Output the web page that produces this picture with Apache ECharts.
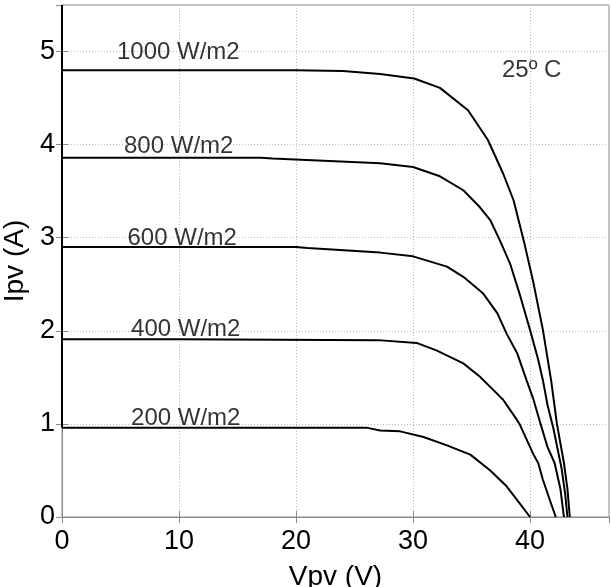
<!DOCTYPE html>
<html>
<head>
<meta charset="utf-8">
<script src="https://cdn.jsdelivr.net/npm/echarts@6/dist/echarts.min.js"></script>
<style>
html,body{margin:0;padding:0;background:#fff;}
#chart{width:611px;height:587px;}
</style>
</head>
<body>
<div id="chart"></div>
<script>
// ---- data (V, I) ----
var curve1000 = [[0,4.80],[10,4.80],[20,4.80],[24,4.79],[27.2,4.76],[30.1,4.71],[32.3,4.61],[34.7,4.37],[36.4,4.05],[37.7,3.69],[38.6,3.40],[39.5,2.95],[40.3,2.51],[41.1,2.01],[41.8,1.47],[42.3,1.00],[42.9,0.58],[43.2,0.30],[43.4,0]];
var curve800 = [[0,3.86],[10,3.86],[17,3.86],[18,3.85],[27.2,3.80],[30.0,3.76],[32.3,3.66],[34.3,3.51],[35.7,3.33],[36.6,3.19],[37.5,2.95],[38.3,2.72],[39.1,2.40],[40.0,2.01],[40.7,1.69],[41.1,1.47],[41.5,1.20],[42.0,0.95],[42.7,0.52],[43.0,0.25],[43.2,0]];
var curve600 = [[0,2.90],[10,2.90],[20,2.90],[21,2.89],[27.2,2.84],[30.0,2.80],[32.9,2.69],[34.3,2.58],[36.0,2.40],[37.2,2.19],[38.0,1.97],[38.9,1.76],[39.7,1.47],[40.3,1.26],[40.9,1.00],[41.5,0.75],[42.1,0.58],[42.6,0.30],[42.9,0]];
var curve400 = [[0,1.91],[10,1.91],[27,1.90],[30.3,1.87],[32.0,1.79],[34.3,1.65],[35.7,1.51],[36.9,1.36],[37.7,1.26],[38.9,1.04],[39.1,1.00],[40.3,0.67],[40.7,0.58],[41.1,0.40],[41.7,0.18],[42.2,0]];
var curve200 = [[0,0.96],[10,0.96],[26,0.96],[27.2,0.93],[28.9,0.92],[30.9,0.86],[32.9,0.77],[34.9,0.67],[36.6,0.50],[38.0,0.33],[39.1,0.15],[40.0,0]];
var edgeLine = [[0,5.5],[0,0.96]];
var labelTexts = ['1000 W/m2','800 W/m2','600 W/m2','400 W/m2','200 W/m2','25º C'];
var labelPos = [[4.7,4.99],[5.3,3.98],[5.6,2.99],[5.9,2.02],[5.9,1.06],[37.6,4.80]];
var xTicks = [0,10,20,30,40];
var yTicks = [0,1,2,3,4,5];
var xName = 'Vpv (V)';
var yName = 'Ipv (A)';

var FONT = 'Liberation Sans, Arial, sans-serif';
var chart = echarts.init(document.getElementById('chart'), null, {renderer:'canvas'});

function lineSeries(data){
  return {type:'line', data:data, showSymbol:false, symbol:'none', smooth:false,
    lineStyle:{color:'#000', width:2}, z:5, silent:true, animation:false};
}
var axisGray = '#8a8a8a';
var gridLine = {show:true, lineStyle:{color:'#bdbdbd', width:1, type:[1,2]}};

var option = {
  backgroundColor:'#fff',
  animation:false,
  grid:{left:62, right:2, top:5, bottom:70, containLabel:false, outerBoundsMode:'none',
    show:true, borderColor:axisGray, borderWidth:1},
  xAxis:[{
    type:'value', min:0, max:46.75, interval:10,
    name:xName, nameLocation:'middle', nameGap:46,
    nameTextStyle:{fontFamily:FONT, fontSize:28, color:'#000'},
    axisLine:{show:true, onZero:false, lineStyle:{color:axisGray, width:1}},
    axisTick:{show:true, inside:true, length:6, lineStyle:{color:axisGray}},
    axisLabel:{fontFamily:FONT, fontSize:27, color:'#000', margin:11, showMaxLabel:false,
      formatter:function(v){return xTicks.indexOf(v)>=0 ? String(v) : '';}},
    splitLine:gridLine
  },{
    type:'value', min:0, max:46.75, interval:10, position:'top',
    axisLine:{show:true, lineStyle:{color:axisGray}},
    axisTick:{show:true, inside:true, length:6, lineStyle:{color:axisGray}},
    axisLabel:{show:false}, splitLine:{show:false}
  }],
  yAxis:[{
    type:'value', min:0, max:5.5, interval:1,
    name:yName, nameLocation:'middle', nameGap:29, nameRotate:90,
    nameTextStyle:{fontFamily:FONT, fontSize:28, color:'#000'},
    axisLine:{show:true, onZero:false, lineStyle:{color:axisGray, width:1}},
    axisTick:{show:true, inside:true, length:6, lineStyle:{color:axisGray}},
    axisLabel:{fontFamily:FONT, fontSize:27, color:'#000', margin:7, showMaxLabel:false,
      formatter:function(v){return yTicks.indexOf(v)>=0 ? String(v) : '';}},
    splitLine:gridLine
  },{
    type:'value', min:0, max:5.5, interval:1, position:'right',
    axisLine:{show:true, lineStyle:{color:axisGray}},
    axisTick:{show:true, inside:true, length:6, lineStyle:{color:axisGray}},
    axisLabel:{show:false}, splitLine:{show:false}
  }],
  series:[
    lineSeries(curve1000), lineSeries(curve800), lineSeries(curve600),
    lineSeries(curve400), lineSeries(curve200), lineSeries(edgeLine),
    {type:'scatter', symbolSize:0, silent:true, z:6,
     data:labelPos.map(function(p,i){return {value:p, name:labelTexts[i]};}),
     label:{show:true, position:'right', distance:0, formatter:'{b}',
       fontFamily:FONT, fontSize:24, color:'#000'}}
  ]
};
chart.setOption(option);
</script>
</body>
</html>
